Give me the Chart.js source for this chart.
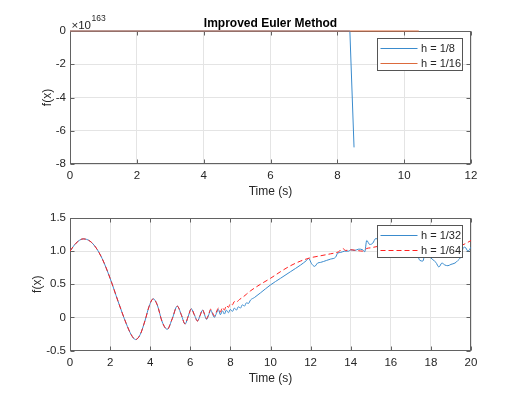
<!DOCTYPE html>
<html>
<head>
<meta charset="utf-8">
<script src="https://cdn.jsdelivr.net/npm/chart.js@4.4.0/dist/chart.umd.min.js"></script>
<style>
  html, body { margin: 0; padding: 0; background: #fff; }
  #wrap { position: relative; width: 529px; height: 398px; }
  .pane { position: absolute; left: 0; width: 529px; height: 199px; }
</style>
</head>
<body>
<div id="wrap">
  <div class="pane" style="top:0"><canvas id="topChart" width="529" height="199"></canvas></div>
  <div class="pane" style="top:199px"><canvas id="bottomChart" width="529" height="199"></canvas></div>
</div>
<script>
// top plot, values are in units of 10^163
const topExponent = 163;
const time8 = [0, 8.375, 8.5];
const value8 = [0, 0, -7];
const time16 = [0, 10.4375];
const value16 = [0, 0];
const topXTicks = [0, 2, 4, 6, 8, 10, 12];
const topYTicks = [0, -2, -4, -6, -8];

// bottom plot
const time32 = [0, 0.3, 0.66, 1.0, 1.3, 1.6, 2.0, 2.4, 2.8, 3.05, 3.27, 3.5, 3.75, 3.95, 4.15, 4.35, 4.6, 4.85,
  5.1, 5.35, 5.55, 5.74, 5.9, 6.05, 6.2, 6.36, 6.49, 6.61, 6.71, 6.81, 6.92, 7.02, 7.11, 7.2, 7.3, 7.4,
  7.5, 7.6, 7.7, 7.8, 7.9, 8.0, 8.1, 8.2, 8.3, 8.4, 8.5, 8.6, 8.7, 8.8, 8.9, 9.0, 9.2, 9.5, 10.0, 10.5,
  11.0, 11.5, 11.8, 11.9, 12.05, 12.2, 12.35, 12.5, 12.8, 13.0, 13.25, 13.35, 13.5, 13.7, 13.9, 14.0,
  14.2, 14.4, 14.6, 14.7, 14.8, 14.95, 15.1, 15.25, 15.5, 16.0, 16.5, 17.0, 17.3, 17.45, 17.6, 17.7,
  17.9, 18.1, 18.25, 18.4, 18.55, 18.7, 18.85, 19.0, 19.2, 19.35, 19.5, 19.6, 19.7, 19.85, 20.0];
const value32 = [1.0, 1.12, 1.185, 1.15, 1.05, 0.89, 0.59, 0.24, -0.09, -0.26, -0.335, -0.26, -0.04, 0.17, 0.28, 0.19, -0.07, -0.18,
  -0.02, 0.17, 0.04, -0.1, 0.02, 0.13, 0.04, -0.055, 0.03, 0.11, 0.04, -0.03, 0.04, 0.11, 0.05, 0.0, 0.06, 0.12,
  0.04, 0.1, 0.05, 0.11, 0.07, 0.12, 0.09, 0.14, 0.11, 0.16, 0.14, 0.19, 0.17, 0.22, 0.21, 0.26, 0.3, 0.37, 0.49, 0.59,
  0.69, 0.79, 0.86, 0.89, 0.81, 0.77, 0.82, 0.83, 0.86, 0.88, 0.91, 0.97, 0.98, 1.0, 1.0, 1.02,
  1.01, 1.03, 1.02, 0.99, 1.16, 1.1, 1.12, 1.19, 1.15, 1.1, 1.05, 1.0, 0.96, 0.86, 0.85, 0.95,
  0.92, 0.87, 0.83, 0.76, 0.82, 0.79, 0.78, 0.8, 0.82, 0.86, 0.92, 1.04, 1.06, 1.0, 1.06];
const time64 = [0, 0.3, 0.66, 1.0, 1.3, 1.6, 2.0, 2.4, 2.8, 3.05, 3.27, 3.5, 3.75, 3.95, 4.15, 4.35, 4.6, 4.85,
  5.1, 5.35, 5.55, 5.74, 5.9, 6.05, 6.2, 6.36, 6.49, 6.61, 6.71, 6.81, 6.92, 7.02, 7.11, 7.2, 7.3, 7.4,
  7.5, 7.6, 7.7, 7.8, 7.9, 8.0, 8.1, 8.2, 8.3, 8.45, 8.6, 8.8, 9.0, 9.5, 10.0, 10.5, 11.0, 11.5, 12.0,
  12.5, 13.0, 13.4, 13.6, 13.75, 14.0, 14.3, 14.6, 14.8, 15.0, 15.5, 16.0, 16.5, 17.0, 17.5, 18.0,
  18.5, 19.0, 19.4, 19.7, 20.0];
const value64 = [1.0, 1.12, 1.185, 1.15, 1.05, 0.89, 0.59, 0.24, -0.09, -0.26, -0.335, -0.26, -0.04, 0.17, 0.28, 0.19, -0.07, -0.18,
  -0.02, 0.17, 0.04, -0.1, 0.02, 0.13, 0.04, -0.055, 0.03, 0.115, 0.05, -0.02, 0.05, 0.125, 0.07, 0.02, 0.08, 0.14,
  0.08, 0.15, 0.11, 0.18, 0.15, 0.21, 0.19, 0.24, 0.23, 0.27, 0.3, 0.35, 0.4, 0.5, 0.59, 0.69, 0.78, 0.85, 0.9,
  0.93, 0.96, 0.99, 1.04, 1.01, 1.02, 1.01, 1.0, 1.04, 1.05, 1.08, 1.1, 1.1, 1.09, 1.07, 1.06,
  1.05, 1.05, 1.07, 1.11, 1.16];
const bottomXTicks = [0, 2, 4, 6, 8, 10, 12, 14, 16, 18, 20];
const bottomYTicks = [-0.5, 0, 0.5, 1, 1.5];

const FONT = "'Liberation Sans', Arial, Helvetica, sans-serif";
const INK = '#262626';
const BLUE = '#3a8bcd';
const ORANGE = '#dc6a3c';
const RED = '#ff2020';

function points(xs, ys) {
  return xs.map((x, i) => ({ x: x, y: ys[i] }));
}

// box around the axes with inward tick marks, like MATLAB
const axesBox = {
  id: 'axesBox',
  beforeDatasetsDraw(chart) {
    const { ctx, chartArea: a, scales } = chart;
    const L = Math.round(a.left) + 0.5, R = Math.round(a.right) - 0.5;
    const T = Math.round(a.top) + 0.5, B = Math.round(a.bottom) - 0.5;
    ctx.save();
    ctx.strokeStyle = '#626262';
    ctx.lineWidth = 1;
    ctx.strokeRect(L, T, R - L, B - T);
    ctx.beginPath();
    scales.x.ticks.forEach(t => {
      const px = Math.round(scales.x.getPixelForValue(t.value)) + 0.5;
      ctx.moveTo(px, B); ctx.lineTo(px, B - 4);
      ctx.moveTo(px, T); ctx.lineTo(px, T + 4);
    });
    scales.y.ticks.forEach(t => {
      const py = Math.round(scales.y.getPixelForValue(t.value)) + 0.5;
      ctx.moveTo(L, py); ctx.lineTo(L + 4, py);
      ctx.moveTo(R, py); ctx.lineTo(R - 4, py);
    });
    ctx.stroke();
    ctx.restore();
  }
};

// legend box inside the top right corner of the axes
const boxLegend = {
  id: 'boxLegend',
  afterDraw(chart, args, opts) {
    const { ctx, chartArea: a } = chart;
    const w = 85, h = 32;
    const x0 = Math.round(a.right - 9 - w) + 0.5;
    const y0 = Math.round(a.top + 7) + 0.5;
    ctx.save();
    ctx.fillStyle = '#fff';
    ctx.fillRect(x0, y0, w, h);
    ctx.strokeStyle = '#555';
    ctx.lineWidth = 1;
    ctx.strokeRect(x0, y0, w, h);
    ctx.font = '11px ' + FONT;
    ctx.textBaseline = 'middle';
    opts.order.forEach((di, row) => {
      const ds = chart.data.datasets[di];
      const yy = Math.round(y0 + 9 + row * 15) + 0.5;
      ctx.strokeStyle = ds.borderColor;
      ctx.setLineDash(ds.borderDash || []);
      ctx.beginPath();
      ctx.moveTo(x0 + 3, yy);
      ctx.lineTo(x0 + 40, yy);
      ctx.stroke();
      ctx.setLineDash([]);
      ctx.fillStyle = INK;
      ctx.fillText(ds.label, x0 + 43.5, yy);
    });
    ctx.restore();
  }
};

// the "x10^163" factor above the y axis
const expLabel = {
  id: 'expLabel',
  afterDraw(chart) {
    const { ctx, chartArea: a } = chart;
    ctx.save();
    ctx.fillStyle = INK;
    ctx.textBaseline = 'alphabetic';
    ctx.font = '11.5px ' + FONT;
    const base = '\u00d710';
    ctx.fillText(base, a.left + 1.5, a.top - 2);
    const bw = ctx.measureText(base).width;
    ctx.font = '8.5px ' + FONT;
    ctx.fillText(String(topExponent), a.left + 2 + bw, a.top - 10);
    ctx.restore();
  }
};

function makeScales(xTicks, yTicks, yTitlePad) {
  const tickFont = { family: FONT, size: 11.5 };
  const grid = { color: '#e4e4e4', lineWidth: 1, drawTicks: false };
  return {
    x: {
      type: 'linear',
      min: xTicks[0], max: xTicks[xTicks.length - 1],
      afterBuildTicks: s => { s.ticks = xTicks.map(v => ({ value: v })); },
      afterFit: s => { s.height = 35; },
      grid: grid,
      border: { display: false },
      ticks: { font: tickFont, color: INK, padding: 5, maxRotation: 0 },
      title: { display: true, text: 'Time (s)', font: { family: FONT, size: 12 }, color: INK, padding: { top: 0, bottom: 0 } }
    },
    y: {
      min: Math.min(...yTicks),
      max: Math.max(...yTicks),
      afterBuildTicks: s => { s.ticks = yTicks.slice().sort((p, q) => p - q).map(v => ({ value: v })); },
      afterFit: s => { s.width = 70; },
      grid: grid,
      border: { display: false },
      ticks: { font: tickFont, color: INK, padding: 4 },
      title: { display: true, text: 'f(x)', font: { family: FONT, size: 12 }, color: INK, padding: { top: yTitlePad, bottom: 0 } }
    }
  };
}

const lineBase = { pointRadius: 0, borderWidth: 1, fill: false, tension: 0 };

new Chart(document.getElementById('topChart'), {
  type: 'line',
  data: {
    datasets: [
      Object.assign({ label: 'h = 1/8', data: points(time8, value8), borderColor: BLUE, order: 1, clip: false }, lineBase),
      Object.assign({ label: 'h = 1/16', data: points(time16, value16), borderColor: ORANGE, order: 0, clip: false }, lineBase)
    ]
  },
  options: {
    responsive: false,
    animation: false,
    layout: { padding: { left: 0, right: 58, top: 0, bottom: 0 } },
    scales: makeScales(topXTicks, topYTicks, 40.8),
    plugins: {
      legend: { display: false },
      tooltip: { enabled: false },
      title: {
        display: true, text: 'Improved Euler Method', fullSize: false,
        font: { family: FONT, size: 12, weight: 'bold' }, color: '#000',
        padding: { top: 16, bottom: 0.6 }
      },
      boxLegend: { order: [0, 1] }
    }
  },
  plugins: [axesBox, boxLegend, expLabel]
});

new Chart(document.getElementById('bottomChart'), {
  type: 'line',
  data: {
    datasets: [
      Object.assign({ label: 'h = 1/32', data: points(time32, value32), borderColor: BLUE, order: 1 }, lineBase, { cubicInterpolationMode: 'monotone' }),
      Object.assign({ label: 'h = 1/64', data: points(time64, value64), borderColor: RED, borderDash: [5, 3], order: 0 }, lineBase, { cubicInterpolationMode: 'monotone' })
    ]
  },
  options: {
    responsive: false,
    animation: false,
    layout: { padding: { left: 0, right: 58, top: 19, bottom: 12.5 } },
    scales: makeScales(bottomXTicks, bottomYTicks, 30.5),
    plugins: {
      legend: { display: false },
      tooltip: { enabled: false },
      boxLegend: { order: [0, 1] }
    }
  },
  plugins: [axesBox, boxLegend]
});
</script>
</body>
</html>
